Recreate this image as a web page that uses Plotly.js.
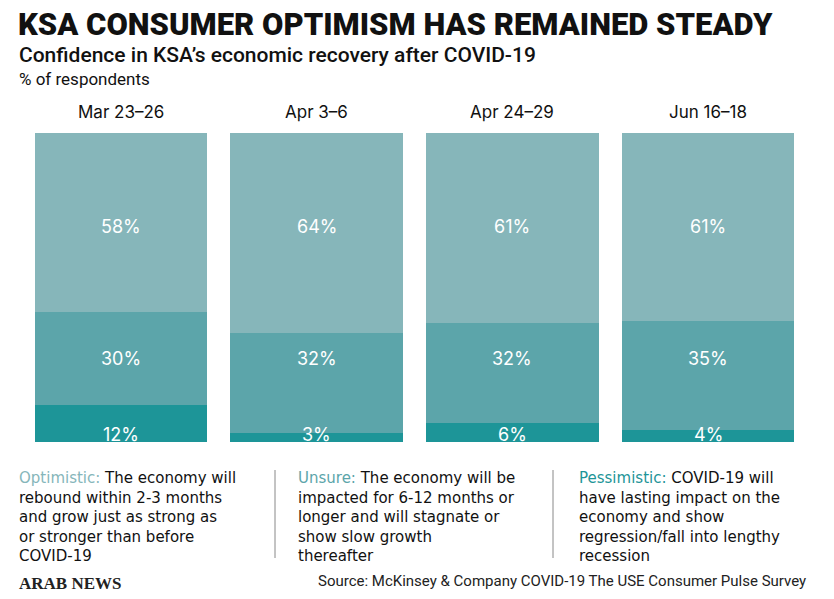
<!DOCTYPE html>
<html>
<head>
<meta charset="utf-8">
<script src="https://cdn.plot.ly/plotly-3.0.1.min.js"></script>
<style>html,body{margin:0;padding:0;background:#fff;}#chart{width:834px;height:599px;}</style>
</head>
<body>
<div id="chart"></div>
<script>
// ---- data ----
const categories = ['Mar 23–26', 'Apr 3–6', 'Apr 24–29', 'Jun 16–18'];
const optimistic = [58, 64, 61, 61];
const unsure = [30, 32, 32, 35];
const pessimistic = [12, 3, 6, 4];

const titleText = 'KSA CONSUMER OPTIMISM HAS REMAINED STEADY';
const subtitleText = 'Confidence in KSA’s economic recovery after COVID-19';
const unitText = '% of respondents';
const sourceText = 'Source: McKinsey &amp; Company COVID-19 The USE Consumer Pulse Survey';
const logoText = 'ARAB NEWS';

const optLines = ['<span style="color:#86b6ba">Optimistic:</span> The economy will', 'rebound within 2-3 months', 'and grow just as strong as', 'or stronger than before', 'COVID-19'];
const unsLines = ['<span style="color:#5ca5aa">Unsure:</span> The economy will be', 'impacted for 6-12 months or', 'longer and will stagnate or', 'show slow growth', 'thereafter'];
const pesLines = ['<span style="color:#1e9598">Pessimistic:</span> COVID-19 will', 'have lasting impact on the', 'economy and show', 'regression/fall into lengthy', 'recession'];

// ---- layout geometry ----
const W = 834, H = 599;
const M = {l: 23, r: 28, t: 133, b: 157};
const PW = W - M.l - M.r, PH = H - M.t - M.b;
const px = x => (x - M.l) / PW;
const py = y => (H - M.b - y) / PH;

const colOpt = '#86b6ba', colUns = '#5ca5aa', colPes = '#1d9598';
const headFont = 'Roboto, "Noto Sans", sans-serif';
const labelFont = 'Inter, "Open Sans", sans-serif';
const bodyFont = '"DejaVu Sans", "Noto Sans", sans-serif';

function barTrace(name, vals, color) {
  return {
    type: 'bar', name: name, x: categories, y: vals,
    marker: {color: color, line: {width: 0}},
    hoverinfo: 'skip', textposition: 'none'
  };
}
const data = [
  barTrace('Pessimistic', pessimistic, colPes),
  barTrace('Unsure', unsure, colUns),
  barTrace('Optimistic', optimistic, colOpt)
];

const ann = [];
function addText(text, x, y, opts) {
  ann.push(Object.assign({text: text, x: x, y: y, xref: 'paper', yref: 'paper', showarrow: false,
    xanchor: 'left', yanchor: 'middle'}, opts));
}
// title / subtitle / unit
addText(titleText, px(16), py(24), {font: {family: headFont, size: 31, weight: 900, color: '#111'}});
addText(subtitleText, px(17), py(55), {font: {family: headFont, size: 21, weight: 500, color: '#111'}});
addText(unitText, px(17), py(79), {font: {family: headFont, size: 17, color: '#111'}});

// category labels & value labels
const valRows = [[optimistic, py(226)], [unsure, py(358)], [pessimistic, py(434)]];
categories.forEach((c, i) => {
  ann.push({text: c, x: c, xref: 'x', y: py(112), yref: 'paper', showarrow: false,
    xanchor: 'center', yanchor: 'middle', font: {family: labelFont, size: 17, color: '#111'}});
  valRows.forEach(([arr, yy]) => {
    ann.push({text: arr[i] + '%', x: c, xref: 'x', y: yy, yref: 'paper', showarrow: false,
      xanchor: 'center', yanchor: 'middle', font: {family: labelFont, size: 18, color: '#fff'}});
  });
});

// bottom explanation columns
[[optLines, 17], [unsLines, 296], [pesLines, 577]].forEach(([lines, x0]) => {
  addText(lines.join('<br>'), px(x0), py(467), {yanchor: 'top', align: 'left',
    font: {family: bodyFont, size: 15, color: '#111'}});
});

// footer
addText('<b>' + logoText + '</b>', px(17), py(583), {font: {family: '"Liberation Serif", serif', size: 17, color: '#222'}});
ann.push({text: sourceText, x: px(808), y: py(581), xref: 'paper', yref: 'paper', showarrow: false,
  xanchor: 'right', yanchor: 'middle', font: {family: headFont, size: 15, color: '#222'}});

const shapes = [275, 553].map(x => ({type: 'line', xref: 'paper', yref: 'paper',
  x0: px(x), x1: px(x), y0: py(470), y1: py(558), line: {color: '#888', width: 1}}));

const layout = {
  width: W, height: H,
  margin: M,
  paper_bgcolor: '#fff', plot_bgcolor: '#fff',
  barmode: 'stack', barnorm: 'percent', bargap: 0.118,
  showlegend: false,
  xaxis: {visible: false, type: 'category'},
  yaxis: {visible: false, range: [0, 100]},
  annotations: ann,
  shapes: shapes
};
Plotly.newPlot('chart', data, layout, {displayModeBar: false, staticPlot: true});
</script>
</body>
</html>
